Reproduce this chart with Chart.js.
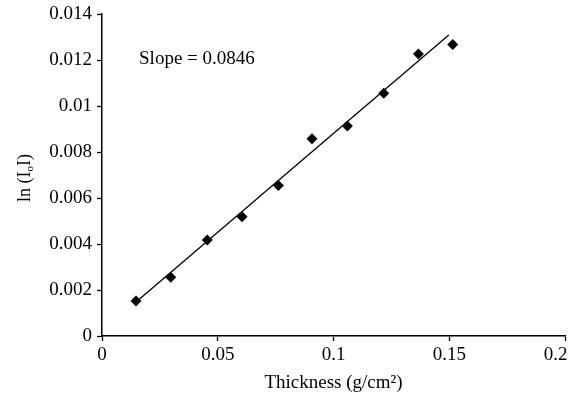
<!DOCTYPE html>
<html>
<head>
<meta charset="utf-8">
<script src="https://cdn.jsdelivr.net/npm/chart.js@4.4.0/dist/chart.umd.min.js"></script>
<style>
  html, body { margin: 0; padding: 0; background: #fff; }
  #wrap { width: 574px; height: 400px; }
</style>
</head>
<body>
<div id="wrap"><canvas id="chart"></canvas></div>
<script>
// --- Datos ---
const thickness = [0.0147, 0.0297, 0.0455, 0.0605, 0.0762, 0.0907, 0.106, 0.1217, 0.1367, 0.1515];
const lnRatio = [0.00152, 0.00255, 0.00417, 0.00519, 0.00654, 0.00858, 0.00913, 0.01055, 0.01226, 0.01267];
const fitX = [0.0161, 0.1498];
const fitY = [0.0016, 0.01309];
const xTicks = [0, 0.05, 0.1, 0.15, 0.2];
const yTicks = [0, 0.002, 0.004, 0.006, 0.008, 0.01, 0.012, 0.014];
const slopeText = 'Slope = 0.0846';
const slopePos = [0.016, 0.01206];

const FONT = '"Liberation Serif", "Times New Roman", serif';

// Título del eje Y con subíndice, dibujado a mano
const yTitlePlugin = {
  id: 'yTitle',
  afterDraw(chart) {
    const { ctx, chartArea } = chart;
    ctx.save();
    ctx.translate(25, (chartArea.top + chartArea.bottom) / 2 + 3);
    ctx.rotate(-Math.PI / 2);
    ctx.fillStyle = '#000';
    ctx.textBaseline = 'middle';
    const big = '18px ' + FONT;
    const small = '11px ' + FONT;
    const parts = [['ln (I', big, 0], ['o', small, 5], ['I)', big, 0]];
    let total = 0;
    parts.forEach(p => { ctx.font = p[1]; total += ctx.measureText(p[0]).width; });
    let x = -total / 2;
    parts.forEach(p => {
      ctx.font = p[1];
      ctx.fillText(p[0], x, p[2]);
      x += ctx.measureText(p[0]).width;
    });
    ctx.restore();
  }
};

// Texto de la pendiente
const slopePlugin = {
  id: 'slopeLabel',
  afterDraw(chart) {
    const { ctx, scales } = chart;
    ctx.save();
    ctx.font = '19px ' + FONT;
    ctx.fillStyle = '#000';
    ctx.textAlign = 'left';
    ctx.textBaseline = 'middle';
    ctx.fillText(slopeText, scales.x.getPixelForValue(slopePos[0]), scales.y.getPixelForValue(slopePos[1]));
    ctx.restore();
  }
};

new Chart(document.getElementById('chart'), {
  type: 'scatter',
  data: {
    datasets: [
      {
        label: 'Datos',
        data: thickness.map((x, i) => ({ x: x, y: lnRatio[i] })),
        pointStyle: 'rectRot',
        pointRadius: 5.5,
        backgroundColor: '#000',
        borderColor: '#000',
        borderWidth: 0
      },
      {
        label: 'Ajuste',
        data: fitX.map((x, i) => ({ x: x, y: fitY[i] })),
        showLine: true,
        pointRadius: 0,
        borderColor: '#000',
        borderWidth: 1.3
      }
    ]
  },
  options: {
    responsive: true,
    maintainAspectRatio: false,
    animation: false,
    layout: { padding: { top: 14, right: 9, left: 0, bottom: 0 } },
    plugins: {
      legend: { display: false },
      tooltip: { enabled: false }
    },
    scales: {
      x: {
        type: 'linear',
        min: 0,
        max: 0.2,
        afterBuildTicks: s => { s.ticks = xTicks.map(v => ({ value: v })); },
        afterFit: s => { s.height = 64; s.paddingRight = 0; s.paddingLeft = 0; },
        ticks: {
          color: '#000',
          font: { family: FONT, size: 19 },
          padding: 3,
          maxRotation: 0,
          // la última etiqueta queda desplazada a la izquierda como en el original
          callback: v => (v === 0.2 ? String(v) + '\u2003' : String(v))
        },
        grid: { drawOnChartArea: false, tickLength: 5, color: '#000', tickWidth: 1.3 },
        border: { color: '#000', width: 1.5 },
        title: {
          display: true,
          text: 'Thickness (g/cm²)',
          color: '#000',
          font: { family: FONT, size: 19 },
          padding: { top: 5, bottom: 6 }
        }
      },
      y: {
        type: 'linear',
        min: 0,
        max: 0.014,
        afterBuildTicks: s => { s.ticks = yTicks.map(v => ({ value: v })); },
        afterFit: s => { s.width = 102; s.paddingTop = 0; s.paddingBottom = 0; },
        ticks: {
          color: '#000',
          font: { family: FONT, size: 19 },
          padding: 5,
          callback: v => String(v)
        },
        grid: { drawOnChartArea: false, tickLength: 5, color: '#000', tickWidth: 1.3 },
        border: { color: '#000', width: 1.5 }
      }
    }
  },
  plugins: [yTitlePlugin, slopePlugin]
});
</script>
</body>
</html>
